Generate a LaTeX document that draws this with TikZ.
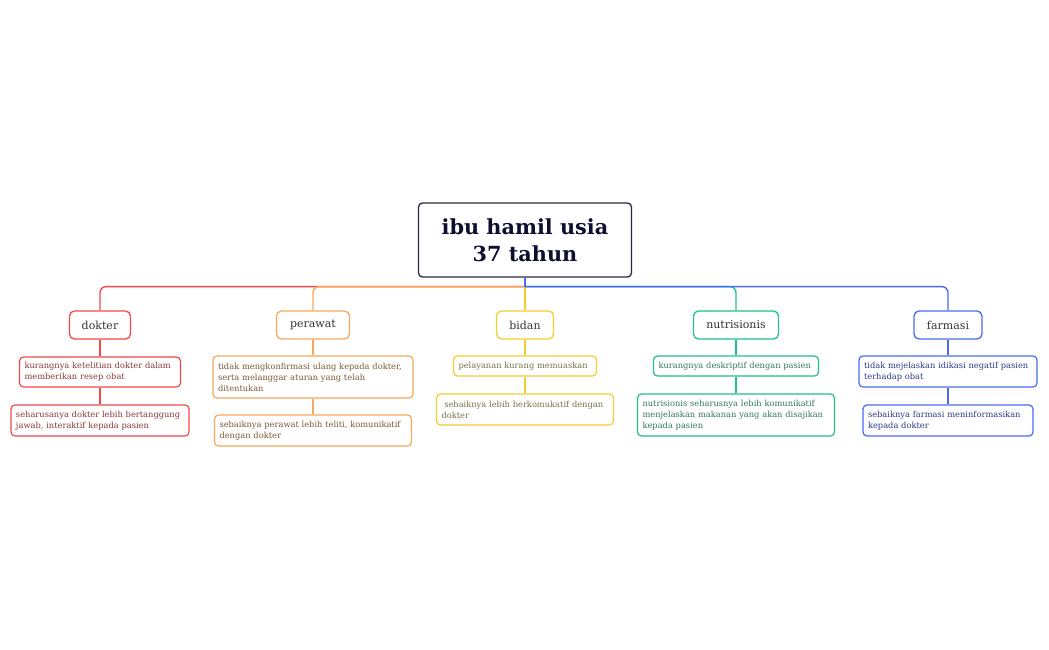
\documentclass[tikz,border=0pt]{standalone}
\usepackage{fontspec}
\setmainfont{DejaVu Serif}
\usepackage{tikz}
\usetikzlibrary{calc}
\usetikzlibrary{positioning}
\definecolor{redLine}{HTML}{F04848}
\definecolor{orangeLine}{HTML}{F7A85C}
\definecolor{yellowLine}{HTML}{F5CC30}
\definecolor{greenLine}{HTML}{20C08A}
\definecolor{blueLine}{HTML}{4A6AF5}
\definecolor{redText}{HTML}{8B3A3A}
\definecolor{orangeText}{HTML}{7A5A32}
\definecolor{yellowText}{HTML}{7A7046}
\definecolor{greenText}{HTML}{2F7A5E}
\definecolor{blueText}{HTML}{2C3A8A}
\definecolor{rootText}{HTML}{0E0E30}
\definecolor{rootLine}{HTML}{2A2A40}
\tikzset{
  rootNode/.style={%
    draw=rootLine, rounded corners=4pt, line width=1.3pt, align=center,
    minimum width=213pt, minimum height=74pt, inner sep=0pt,
    font=\fontsize{20.8}{27}\selectfont\bfseries, text=rootText,
  },
  topicNode/.style={%
    draw, rounded corners=5pt, line width=1.3pt, fill=white,
    minimum height=28pt, inner xsep=0pt, inner ysep=0pt,
    font=\fontsize{11}{13}\selectfont, text=black!80,
  },
  detailNode/.style={%
    draw, rounded corners=4pt, line width=1.2pt, fill=white, align=left,
    inner xsep=5pt, inner ysep=0pt,
    font=\fontsize{8.3}{11}\selectfont,
  },
  branchLine/.style={%
    line width=1.4pt,
  }
}
\begin{document}
\begin{tikzpicture}[x=1pt,y=-1pt]
          \useasboundingbox (0,0) rectangle (1049,650);

          \node[rootNode] (R) at (525,240) {ibu hamil usia\ \\37 tahun};
          \coordinate (J) at ($(R.south)+(0,9)$);

          \node[topicNode,draw=redLine,minimum width=61pt] (D) at (100,325) {dokter};
          \node[topicNode,draw=orangeLine,minimum width=73pt] (P) at (313,325) {perawat};
          \node[topicNode,draw=yellowLine,minimum width=57pt] (B) at (525,325) {bidan};
          \node[topicNode,draw=greenLine,minimum width=85pt] (N) at (736,325) {nutrisionis};
          \node[topicNode,draw=blueLine,minimum width=68pt] (F) at (948,325) {farmasi};

          \node[detailNode,draw=redLine,text=redText,text width=151pt,minimum height=30pt] (D1) at (100,372) {kurangnya ketelitian dokter dalam\\memberikan resep obat};
          \node[detailNode,draw=redLine,text=redText,text width=168pt,minimum height=31pt] (D2) at (100,420.5) {seharusanya dokter lebih bertanggung\\jawab, interaktif kepada pasien};
          \node[detailNode,draw=orangeLine,text=orangeText,text width=190pt,minimum height=42pt] (P1) at (313,377) {tidak mengkonfirmasi ulang kepada dokter,\\serta melanggar aturan yang telah\\ditentukan};
          \node[detailNode,draw=orangeLine,text=orangeText,text width=187pt,minimum height=31pt] (P2) at (313,430.5) {sebaiknya perawat lebih teliti, komunikatif\\dengan dokter};
          \node[detailNode,draw=yellowLine,text=yellowText,text width=133pt,minimum height=20pt] (B1) at (525,366) {pelayanan kurang memuaskan};
          \node[detailNode,draw=yellowLine,text=yellowText,text width=167pt,minimum height=31pt] (B2) at (525,409.5) {\ sebaiknya lebih berkomukatif dengan\\dokter};
          \node[detailNode,draw=greenLine,text=greenText,text width=155pt,minimum height=20pt] (N1) at (736,366) {kurangnya deskriptif dengan pasien};
          \node[detailNode,draw=greenLine,text=greenText,text width=187pt,minimum height=42pt] (N2) at (736,415) {nutrisionis seharusnya lebih komunikatif\\menjelaskan makanan yang akan disajikan\\kepada pasien};
          \node[detailNode,draw=blueLine,text=blueText,text width=168pt,minimum height=31pt] (F1) at (948,371.5) {tidak mejelaskan idikasi negatif pasien\\terhadap obat};
          \node[detailNode,draw=blueLine,text=blueText,text width=160pt,minimum height=31pt] (F2) at (948,420.5) {sebaiknya farmasi meninformasikan\\kepada dokter};

          \draw[branchLine,redLine] (R.south) -- (J) (D) -- (D1) (D1) -- (D2);
          \draw[branchLine,redLine,rounded corners=6pt] (J) -| (D.north);
          \draw[branchLine,orangeLine] (R.south) -- (J) (P) -- (P1) (P1) -- (P2);
          \draw[branchLine,orangeLine,rounded corners=6pt] (J) -| (P.north);
          \draw[branchLine,yellowLine] (R.south) -- (B.north) (B) -- (B1) (B1) -- (B2);
          \draw[branchLine,greenLine] (R.south) -- (J) (N) -- (N1) (N1) -- (N2);
          \draw[branchLine,greenLine,rounded corners=6pt] (J) -| (N.north);
          \draw[branchLine,blueLine] (R.south) -- (J) (F) -- (F1) (F1) -- (F2);
          \draw[branchLine,blueLine,rounded corners=6pt] (J) -| (F.north);
        \end{tikzpicture}
\end{document}
